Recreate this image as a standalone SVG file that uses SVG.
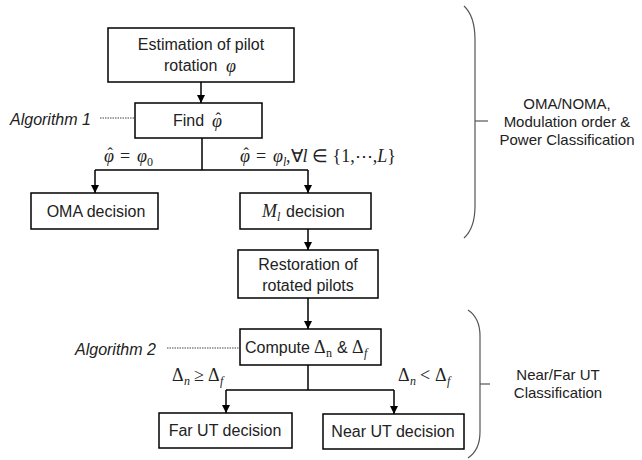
<svg xmlns="http://www.w3.org/2000/svg" width="642" height="460" viewBox="0 0 642 460">
<defs>
<marker id="arr" viewBox="0 0 10 10" refX="10" refY="5" markerWidth="8" markerHeight="10" markerUnits="userSpaceOnUse" orient="auto">
<path d="M0,0 L10,5 L0,10 z" fill="#000"/>
</marker>
<style>
.box{fill:#fff;stroke:#000;stroke-width:1.5}
.t{font-family:"Liberation Sans",Arial,sans-serif;font-size:16px;fill:#222;text-anchor:middle}
.ts{font-family:"Liberation Sans",Arial,sans-serif;font-size:16px;fill:#222}
.side{font-family:"Liberation Sans",Arial,sans-serif;font-size:15px;fill:#222;text-anchor:middle}
.alg{font-family:"Liberation Sans",Arial,sans-serif;font-size:16px;font-style:italic;fill:#222}
.m{font-family:"Liberation Serif","Times New Roman",serif;font-size:18px;fill:#222}
.mi{font-style:italic}
.sub{font-size:12px}
.hat{font-size:16px;font-style:normal}
.ln{fill:none;stroke:#000;stroke-width:1.5}
.dot{fill:none;stroke:#444;stroke-width:1;stroke-dasharray:1.5 1}
.br{fill:none;stroke:#555;stroke-width:1.2}
</style>
</defs>

<g id="connectors">
<line class="ln" x1="201" y1="82" x2="201" y2="103" marker-end="url(#arr)"/>
<polyline class="ln" points="202,138 202,170"/>
<polyline class="ln" points="95,170 308,170"/>
<line class="ln" x1="95" y1="170" x2="95" y2="193" marker-end="url(#arr)"/>
<line class="ln" x1="308" y1="170" x2="308" y2="193" marker-end="url(#arr)"/>
<line class="ln" x1="308" y1="229" x2="308" y2="250" marker-end="url(#arr)"/>
<line class="ln" x1="308" y1="298" x2="308" y2="329" marker-end="url(#arr)"/>
<polyline class="ln" points="308,365 308,390"/>
<polyline class="ln" points="226,390 394,390"/>
<line class="ln" x1="226" y1="390" x2="226" y2="413" marker-end="url(#arr)"/>
<line class="ln" x1="394" y1="390" x2="394" y2="414" marker-end="url(#arr)"/>
<line class="dot" x1="100" y1="118" x2="134" y2="118"/>
<line class="dot" x1="167" y1="348" x2="239" y2="348"/>
</g>

<g id="estimation">
<rect class="box" x="108" y="28" width="186" height="54"/>
<text class="t" x="201" y="50">Estimation of pilot</text>
<text class="ts" x="164" y="71">rotation</text>
<text class="m mi" x="226" y="72">φ</text>
</g>

<g id="find">
<rect class="box" x="135" y="103" width="127" height="35"/>
<text class="ts" x="173" y="126">Find</text>
<text class="m mi" x="212" y="127">φ<tspan class="hat" dx="-6.5" dy="-3">ˆ</tspan></text>
</g>

<g id="algorithm1">
<text class="alg" x="10" y="125">Algorithm 1</text>
</g>

<g id="oma">
<rect class="box" x="31" y="193" width="127" height="36"/>
<text class="t" x="96" y="217">OMA decision</text>
</g>

<g id="ml">
<rect class="box" x="240" y="193" width="131" height="36"/>
<text class="m mi" x="262" y="217">M</text>
<text class="m mi sub" x="277" y="221">l</text>
<text class="ts" x="286" y="217">decision</text>
</g>

<g id="label-phi0">
<text class="m mi" x="104" y="162">φ<tspan class="hat" dx="-6.5" dy="-3">ˆ</tspan></text>
<text class="m" x="120" y="162">=</text>
<text class="m mi" x="137" y="162">φ</text>
<text class="m sub" x="147" y="166">0</text>
</g>

<g id="label-phil">
<text class="m mi" x="240" y="162">φ<tspan class="hat" dx="-6.5" dy="-3">ˆ</tspan></text>
<text class="m" x="256" y="162">=</text>
<text class="m mi" x="273" y="162">φ</text>
<text class="m mi sub" x="283" y="166">l</text>
<text class="m" x="286" y="162">,∀<tspan class="mi">l</tspan> ∈ {1,⋯,<tspan class="mi">L</tspan>}</text>
</g>

<g id="restoration">
<rect class="box" x="238" y="250" width="140" height="48"/>
<text class="t" x="308" y="270">Restoration of</text>
<text class="t" x="308" y="291">rotated pilots</text>
</g>

<g id="compute">
<rect class="box" x="240" y="329" width="141" height="36"/>
<text class="ts" x="245" y="353">Compute</text>
<text class="m" x="314" y="353">Δ</text>
<text class="m sub" x="326" y="357">n</text>
<text class="ts" x="337" y="353">&amp;</text>
<text class="m" x="352" y="353">Δ</text>
<text class="m mi sub" x="364" y="357">f</text>
</g>

<g id="algorithm2">
<text class="alg" x="75" y="355">Algorithm 2</text>
</g>

<g id="label-ge">
<text class="m" x="172" y="381">Δ</text>
<text class="m mi sub" x="184" y="385">n</text>
<text class="m" x="194" y="381">≥</text>
<text class="m" x="208" y="381">Δ</text>
<text class="m mi sub" x="220" y="385">f</text>
</g>

<g id="label-lt">
<text class="m" x="398" y="381">Δ</text>
<text class="m mi sub" x="410" y="385">n</text>
<text class="m" x="420" y="381">&lt;</text>
<text class="m" x="435" y="381">Δ</text>
<text class="m mi sub" x="447" y="385">f</text>
</g>

<g id="far">
<rect class="box" x="159" y="413" width="133" height="35"/>
<text class="t" x="225" y="436">Far UT decision</text>
</g>

<g id="near">
<rect class="box" x="323" y="414" width="141" height="35"/>
<text class="t" x="393" y="437">Near UT decision</text>
</g>

<g id="brace1">
<path class="br" d="M464,6 Q475,16 475,40 L475,206 Q475,228 464,238"/>
<line class="br" x1="475" y1="121" x2="488" y2="121"/>
<text class="side" x="567" y="109">OMA/NOMA,</text>
<text class="side" x="567" y="127">Modulation order &amp;</text>
<text class="side" x="567" y="145">Power Classification</text>
</g>

<g id="brace2">
<path class="br" d="M468,310 Q480,318 480,336 L480,432 Q480,450 468,458"/>
<line class="br" x1="480" y1="384" x2="490" y2="384"/>
<text class="side" x="558" y="380">Near/Far UT</text>
<text class="side" x="558" y="398">Classification</text>
</g>
</svg>
